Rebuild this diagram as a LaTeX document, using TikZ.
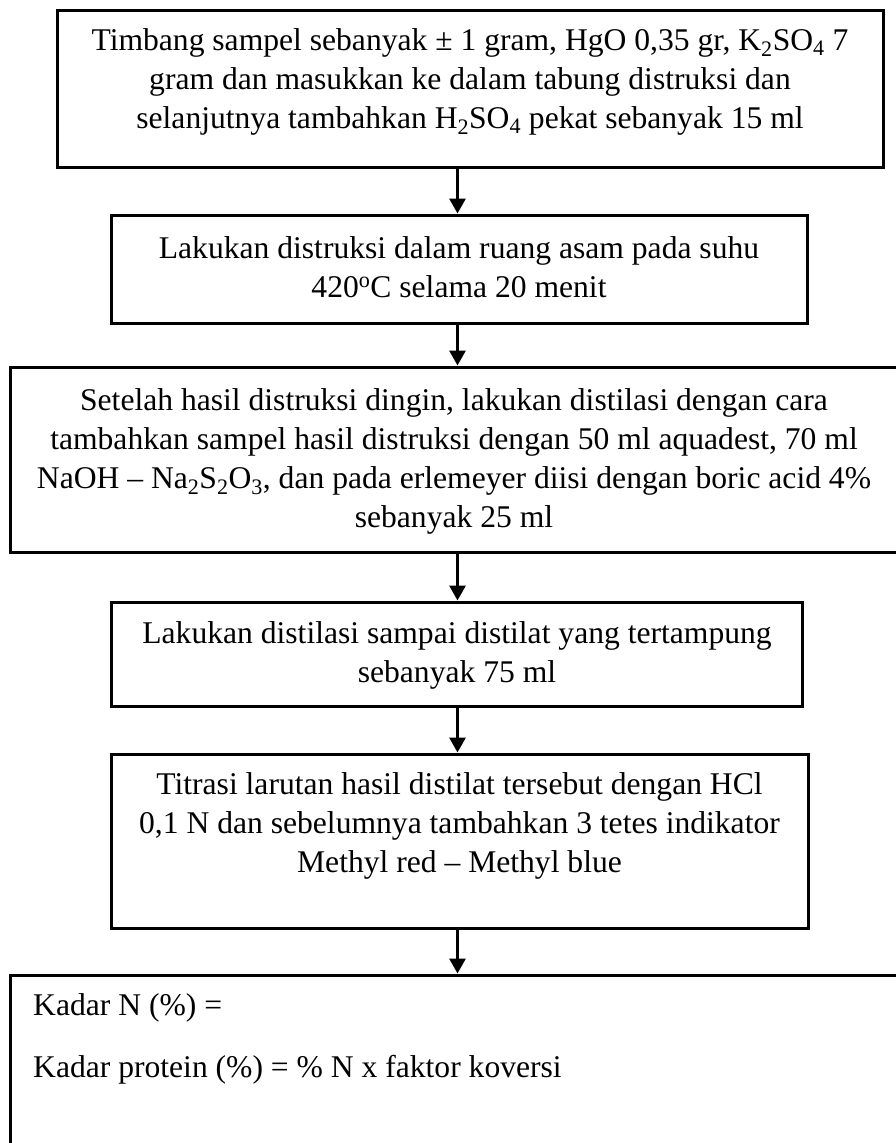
\documentclass[tikz,border=0pt]{standalone}
\usepackage{fontspec}
\setmainfont{Liberation Serif}
\usetikzlibrary{arrows.meta}
\begin{document}
\begin{tikzpicture}[x=1pt,y=-1pt,
  box/.style={draw=black, line width=3pt, rectangle, inner sep=0pt},
  txt/.style={inner sep=0pt, align=center, anchor=base, font=\fontsize{31.6}{39}\selectfont},
  ltxt/.style={inner sep=0pt, anchor=base west, font=\fontsize{31.6}{39}\selectfont},
  arr/.style={line width=3pt, -{Triangle[length=15pt,width=16pt]}}]
\useasboundingbox (0,0) rectangle (896,1143);
\fill[white] (0,0) rectangle (896,1143);
% boxes
\node[box, minimum width=826pt, minimum height=157pt] (b1) at (470,88.5) {};
\node[box, minimum width=696pt, minimum height=108pt] (b2) at (459,269) {};
\node[box, minimum width=890pt, minimum height=185pt] (b3) at (455,459.5) {};
\node[box, minimum width=691pt, minimum height=104pt] (b4) at (456.5,654) {};
\node[box, minimum width=697pt, minimum height=174pt] (b5) at (459.5,841) {};
\node[box, minimum width=890pt, minimum height=180pt] (b6) at (455,1065) {};
% texts (anchor base = last line's baseline)
\node[txt] (t1) at (470,128) {Timbang sampel sebanyak ± 1 gram, HgO 0,35 gr, K\textsubscript{2}SO\textsubscript{4} 7\\gram dan masukkan ke dalam tabung distruksi dan\\selanjutnya tambahkan H\textsubscript{2}SO\textsubscript{4} pekat sebanyak 15 ml};
\node[txt] (t2) at (459,297) {Lakukan distruksi dalam ruang asam pada suhu\\420\textsuperscript{o}C selama 20 menit};
\node[txt] (t3) at (454,527) {Setelah hasil distruksi dingin, lakukan distilasi dengan cara\\tambahkan sampel hasil distruksi dengan 50 ml aquadest, 70 ml\\NaOH – Na\textsubscript{2}S\textsubscript{2}O\textsubscript{3}, dan pada erlemeyer diisi dengan boric acid 4\%\\sebanyak 25 ml};
\node[txt] (t4) at (457,682) {Lakukan distilasi sampai distilat yang tertampung\\sebanyak 75 ml};
\node[txt] (t5) at (459.5,872) {Titrasi larutan hasil distilat tersebut dengan HCl\\0,1 N dan sebelumnya tambahkan 3 tetes indikator\\Methyl red – Methyl blue};
\node[ltxt] (k1) at (33,1015) {Kadar N (\%) =};
\node[ltxt] (k2) at (33,1077) {Kadar protein (\%) = \% N x faktor koversi};
% arrows
\coordinate (ax) at (457.5,0);
\draw[arr] (b1.south -| ax) -- (b2.north -| ax);
\draw[arr] (b2.south -| ax) -- (b3.north -| ax);
\draw[arr] (b3.south -| ax) -- (b4.north -| ax);
\draw[arr] (b4.south -| ax) -- (b5.north -| ax);
\draw[arr] (b5.south -| ax) -- (b6.north -| ax);
\end{tikzpicture}
\end{document}
